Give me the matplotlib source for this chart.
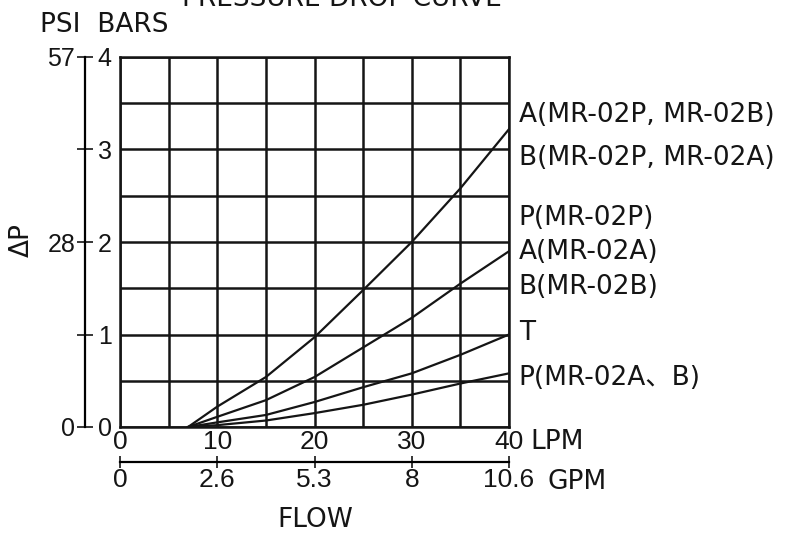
import numpy as np
import matplotlib.pyplot as plt

plt.rcParams['font.family'] = ['DejaVu Sans', 'Noto Sans CJK JP']

# flow (LPM) and pressure drop (bar)
flow = [7, 10, 15, 20, 25, 30, 35, 40]
dp_a = [0, 0.22, 0.54, 0.97, 1.48, 2.0, 2.58, 3.22]
dp_p = [0, 0.11, 0.29, 0.54, 0.86, 1.18, 1.55, 1.9]
dp_t = [0, 0.05, 0.13, 0.27, 0.43, 0.58, 0.78, 1.0]
dp_pab = [0, 0.02, 0.07, 0.15, 0.24, 0.35, 0.47, 0.58]

lpm_ticks = [0, 10, 20, 30, 40]
gpm_labels = ['0', '2.6', '5.3', '8', '10.6']
bar_ticks = [0, 1, 2, 3, 4]
psi_labels = ['0', '', '28', '', '57']

labels = ['A(MR-02P, MR-02B)', 'B(MR-02P, MR-02A)', 'P(MR-02P)', 'A(MR-02A)',
          'B(MR-02B)', 'T', 'P(MR-02A\u3001B)']
label_y = [3.37, 2.91, 2.26, 1.89, 1.51, 1.02, 0.53]

W, H = 796, 533
fig = plt.figure(figsize=(W / 100, H / 100), dpi=100)
ax = fig.add_axes([120 / W, (H - 427) / H, (509 - 120) / W, (427 - 57) / H])

ink = '#151515'
fs = 19
num_font = ['Liberation Sans Narrow', 'Liberation Sans', 'DejaVu Sans']

for y in [dp_a, dp_p, dp_t, dp_pab]:
    ax.plot(flow, y, color=ink, lw=1.6, zorder=3)

ax.set_xlim(0, 40)
ax.set_ylim(0, 4)
ax.set_xticks(np.arange(0, 41, 5), minor=True)
ax.set_yticks(np.arange(0, 4.01, 0.5), minor=True)
ax.set_xticks(lpm_ticks)
ax.set_yticks(bar_ticks)
ax.grid(which='both', color=ink, lw=1.8)
ax.tick_params(which='both', length=0, labelsize=fs, colors=ink)
ax.tick_params(axis='x', pad=2)
ax.tick_params(axis='y', labelsize=18, pad=6)
for s in ax.spines.values():
    s.set_linewidth(1.8)
    s.set_color(ink)

# PSI scale
psi = ax.secondary_yaxis(-0.09)
psi.set_yticks(bar_ticks, psi_labels)
psi.tick_params(direction='inout', length=12, width=1.2, labelsize=18, colors=ink, pad=1)
psi.spines['left'].set_linewidth(1.6)

# GPM scale
gpm = ax.secondary_xaxis(-0.095)
gpm.set_xticks(lpm_ticks, gpm_labels)
gpm.tick_params(direction='inout', length=9, width=1.2, labelsize=fs, colors=ink, pad=0)
gpm.spines['bottom'].set_linewidth(1.6)

for lab in (ax.get_xticklabels() + ax.get_yticklabels() +
            psi.get_yticklabels() + gpm.get_xticklabels()):
    lab.set_family(num_font)

for t, y in zip(labels, label_y):
    ax.text(1.025, y, t, transform=ax.get_yaxis_transform(), fontsize=fs,
            color=ink, ha='left', va='center')

ax.text(1.055, -0.04, 'LPM', transform=ax.transAxes, fontsize=fs, color=ink, va='center')
ax.text(1.1, -0.148, 'GPM', transform=ax.transAxes, fontsize=fs, color=ink, va='center')
fig.text(315 / W, 1 - 520 / H, 'FLOW', fontsize=fs, color=ink, ha='center', va='center')
fig.text(40 / W, 1 - 25 / H, 'PSI  BARS', fontsize=fs, color=ink, ha='left', va='center')
fig.text(22 / W, 1 - 240 / H, '\u0394P', fontsize=fs, color=ink, ha='center', va='center',
         rotation=90)
fig.text(342 / W, 1 - 6 / H, 'PRESSURE DROP CURVE', fontsize=fs, color=ink,
         ha='center', va='baseline')

fig.savefig('out.png', dpi=100)
